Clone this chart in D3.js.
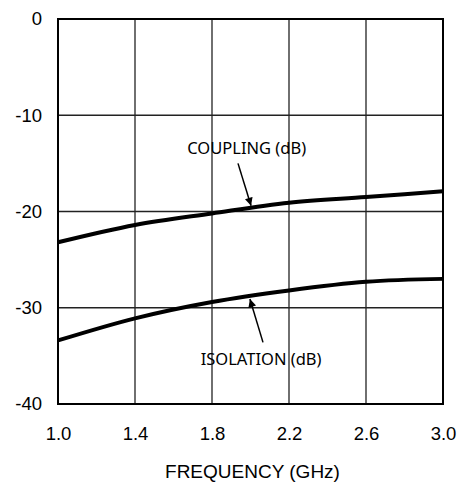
<!DOCTYPE html>
<html>
<head>
<meta charset="utf-8">
<script src="https://cdn.jsdelivr.net/npm/d3@7"></script>
<style>
  body { margin: 0; background: #fff; }
  svg { display: block; }
</style>
</head>
<body>
<svg id="chart" width="460" height="485"></svg>
<script>
const freq = [1.0, 1.4, 1.8, 2.2, 2.6, 3.0];
const coupling = [-23.2, -21.4, -20.2, -19.1, -18.5, -17.9];
const isolation = [-33.4, -31.1, -29.4, -28.2, -27.3, -27.0];
const xTicks = [1.0, 1.4, 1.8, 2.2, 2.6, 3.0];
const yTicks = [0, -10, -20, -30, -40];

const W = 460, H = 485;
const m = { top: 19, right: 17, bottom: 81, left: 58 };
const w = W - m.left - m.right;
const h = H - m.top - m.bottom;

const svg = d3.select('#chart');
const g = svg.append('g').attr('transform', `translate(${m.left},${m.top})`);

const x = d3.scaleLinear().domain([1.0, 3.0]).range([0, w]);
const y = d3.scaleLinear().domain([-40, 0]).range([h, 0]);

// grid
g.selectAll('.vgrid').data(xTicks.slice(1, -1)).join('line')
  .attr('x1', d => x(d)).attr('x2', d => x(d)).attr('y1', 0).attr('y2', h)
  .attr('stroke', '#222').attr('stroke-width', 1.3);
g.selectAll('.hgrid').data(yTicks.slice(1, -1)).join('line')
  .attr('y1', d => y(d)).attr('y2', d => y(d)).attr('x1', 0).attr('x2', w)
  .attr('stroke', '#222').attr('stroke-width', 1.3);

g.append('rect').attr('width', w).attr('height', h)
  .attr('fill', 'none').attr('stroke', '#000').attr('stroke-width', 2);

// axes
g.append('g').attr('transform', `translate(0,${h})`)
  .call(d3.axisBottom(x).tickValues(xTicks).tickSize(0).tickPadding(23).tickFormat(d3.format('.1f')));
g.append('g')
  .call(d3.axisLeft(y).tickValues(yTicks).tickSize(0).tickPadding(16).tickFormat(d => d));
g.selectAll('.domain').remove();
g.selectAll('.tick text')
  .attr('font-family', 'Liberation Sans, Arial, sans-serif')
  .attr('font-size', 18.5).attr('fill', '#000');

svg.append('text')
  .attr('x', m.left + w / 2 + 2).attr('y', 478)
  .attr('text-anchor', 'middle')
  .attr('font-family', 'Liberation Sans, Arial, sans-serif')
  .attr('font-size', 19).attr('fill', '#000')
  .text('FREQUENCY (GHz)');

// curves
const line = d3.line().x((d, i) => x(freq[i])).y(d => y(d)).curve(d3.curveMonotoneX);
[coupling, isolation].forEach(s => {
  g.append('path').datum(s)
    .attr('fill', 'none').attr('stroke', '#000').attr('stroke-width', 4)
    .attr('d', line);
});

// annotations
svg.append('defs').append('marker')
  .attr('id', 'arrow').attr('viewBox', '0 0 10 10')
  .attr('refX', 10).attr('refY', 5)
  .attr('markerWidth', 9).attr('markerHeight', 8)
  .attr('markerUnits', 'userSpaceOnUse')
  .attr('orient', 'auto')
  .append('path').attr('d', 'M0,0 L10,5 L0,10 Z').attr('fill', '#000');

const notes = [
  { text: 'COUPLING (dB)', lx: 1.98, ly: -14.0, x1: 1.935, y1: -15.0, x2: 2.003, y2: -19.4 },
  { text: 'ISOLATION (dB)', lx: 2.055, ly: -35.9, x1: 2.065, y1: -33.6, x2: 1.997, y2: -29.1 }
];
notes.forEach(n => {
  g.append('line')
    .attr('x1', x(n.x1)).attr('y1', y(n.y1)).attr('x2', x(n.x2)).attr('y2', y(n.y2))
    .attr('stroke', '#000').attr('stroke-width', 1.5)
    .attr('marker-end', 'url(#arrow)');
  g.append('text')
    .attr('x', x(n.lx)).attr('y', y(n.ly))
    .attr('text-anchor', 'middle')
    .attr('font-family', 'Noto Sans, sans-serif')
    .attr('font-size', 16.5).attr('fill', '#000')
    .text(n.text);
});
</script>
</body>
</html>
